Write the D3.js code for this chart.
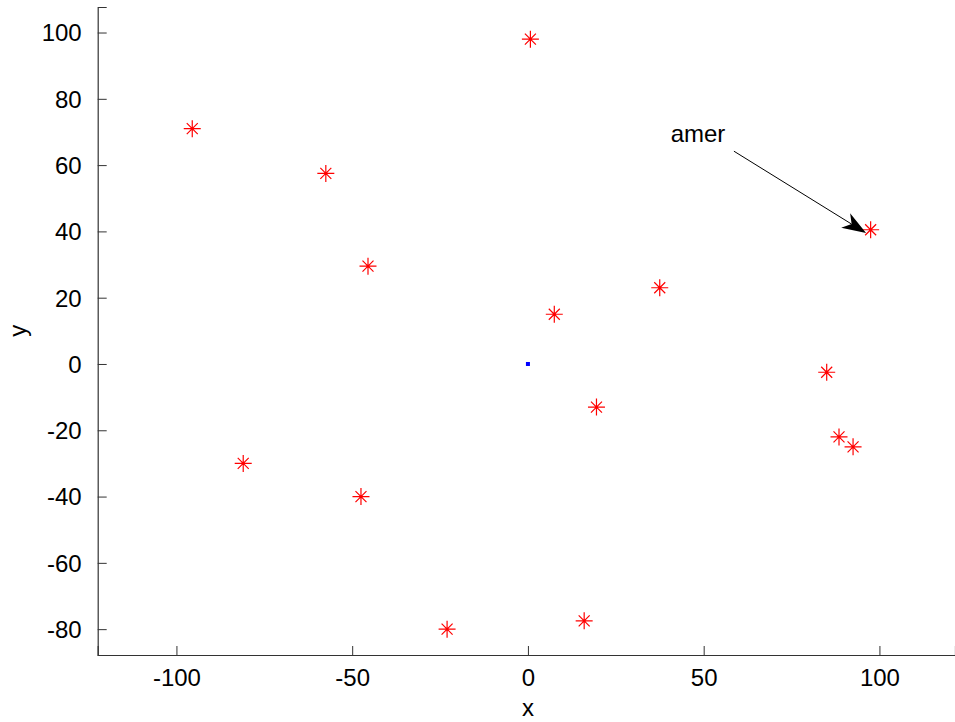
<!DOCTYPE html>
<html><head><meta charset="utf-8">
<script src="https://cdn.jsdelivr.net/npm/d3@7"></script>
<style>body{margin:0;background:#fff}svg{display:block}text{font-family:"Liberation Sans",Arial,sans-serif}</style>
</head><body>
<script>
const xValues = [-95.5, 0.7, -57.5, -45.5, 37.5, 7.5, 97.5, 85, 19.5, 88.5, 92.5, -81, -47.5, -23, 16];
const yValues = [71, 98, 57.5, 29.5, 23, 15, 40.5, -2.5, -13, -22, -25, -30, -40, -80, -77.5];
const originPoint = [0, 0];
const xTicks = [-100, -50, 0, 50, 100];
const yTicks = [-80, -60, -40, -20, 0, 20, 40, 60, 80, 100];
const annotationText = "amer";
const annotationTextPos = [40.6, 67];
const arrowTail = [58.6, 64.2];
const arrowTip = [96.2, 39.5];

const W = 955, H = 722;
const svg = d3.select("body").append("svg").attr("width", W).attr("height", H);
const x = d3.scaleLinear().domain([-122.4, 121.5]).range([97.7, 955]);
const y = d3.scaleLinear().domain([-87.8, 107.7]).range([655, 7]);
const fs = 24;
const fmt = d => String(d);

// axes
const xAxis = d3.axisBottom(x).tickValues(xTicks).tickSize(-9).tickPadding(14).tickFormat(fmt);
const yAxis = d3.axisLeft(y).tickValues(yTicks).tickSize(-9).tickPadding(16).tickFormat(fmt);
const gx = svg.append("g").attr("transform", `translate(0,${y.range()[0]})`).call(xAxis);
const gy = svg.append("g").attr("transform", `translate(${x.range()[0]},0)`).call(yAxis);
[gx, gy].forEach(g => {
  g.select(".domain").attr("stroke", "#333").attr("stroke-width", 1.2);
  g.selectAll(".tick line").attr("stroke", "#333");
  g.selectAll(".tick text").attr("fill", "#000").style("font-size", fs + "px").style("font-family", '"Liberation Sans",Arial,sans-serif');
});
gy.selectAll(".tick text").attr("dy", "0.35em");

svg.append("text").attr("x", x(0)).attr("y", 716).attr("text-anchor", "middle").style("font-size", fs + "px").text("x");
svg.append("text").attr("transform", `translate(26,${y(10)}) rotate(-90)`).attr("text-anchor", "middle").style("font-size", fs + "px").text("y");

// asterisk markers
const pts = xValues.map((v, i) => [v, yValues[i]]);
const a = 8.5, d = 5.5;
const g = svg.append("g").attr("stroke", "#ff0000").attr("stroke-width", 1.2).attr("fill", "none");
pts.forEach(p => {
  const cx = x(p[0]), cy = y(p[1]);
  g.append("path").attr("d",
    `M${cx - a},${cy}H${cx + a}M${cx},${cy - a}V${cy + a}` +
    `M${cx - d},${cy - d}L${cx + d},${cy + d}M${cx - d},${cy + d}L${cx + d},${cy - d}`);
});

// origin point
svg.append("rect").attr("x", x(originPoint[0]) - 2).attr("y", y(originPoint[1]) - 2)
  .attr("width", 4).attr("height", 4).attr("fill", "#0000ff");

// annotation
svg.append("text").attr("x", x(annotationTextPos[0])).attr("y", y(annotationTextPos[1]))
  .style("font-size", "24px").text(annotationText);
const tx = x(arrowTail[0]), ty = y(arrowTail[1]), hx = x(arrowTip[0]), hy = y(arrowTip[1]);
const ang = Math.atan2(hy - ty, hx - tx);
const L = 24, Wd = 8.5, notch = 17;
const ux = Math.cos(ang), uy = Math.sin(ang), px = -uy, py = ux;
const bx = hx - ux * L, by = hy - uy * L;
const nx = hx - ux * notch, ny = hy - uy * notch;
svg.append("line").attr("x1", tx).attr("y1", ty).attr("x2", nx).attr("y2", ny).attr("stroke", "#000").attr("stroke-width", 1);
svg.append("path").attr("d",
  `M${hx},${hy}L${bx + px * Wd},${by + py * Wd}L${nx},${ny}L${bx - px * Wd},${by - py * Wd}Z`).attr("fill", "#000");
</script>
</body></html>
